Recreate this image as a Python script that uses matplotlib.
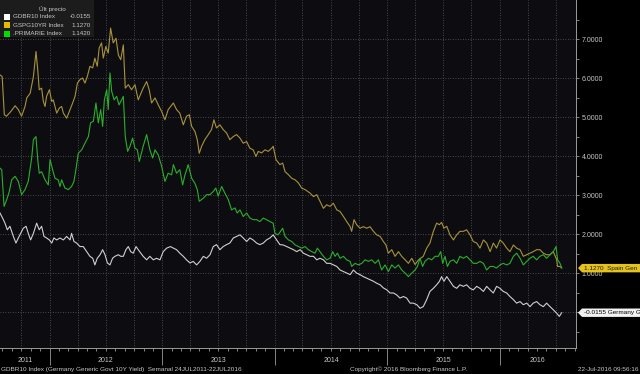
import numpy as np
import pandas as pd
import matplotlib
matplotlib.use("Agg")
import matplotlib.pyplot as plt
import matplotlib.dates as mdates
import matplotlib.ticker as mticker
import matplotlib.transforms as mtransforms
from matplotlib.patches import Polygon, Rectangle
from matplotlib import font_manager

# ---------------- fonts ----------------
_names = {f.name for f in font_manager.fontManager.ttflist}
_fams = [f for f in ["Liberation Sans Narrow", "Liberation Sans", "DejaVu Sans"] if f in _names] or ["DejaVu Sans"]
plt.rcParams["font.family"] = _fams

# ---------------- data ----------------
# weekly series, position given as weeks since 24-Jul-2011
start_date = "2011-07-24"
end_date = "2016-09-05"

spain_weeks = [0, 1, 2, 3, 5, 7, 8.5, 10, 11.6, 12.4, 14, 15.5, 16.7, 17.5, 18.2, 19.3, 20.1, 20.9, 21.6, 22.9,
               24, 24.7, 25.5, 26.3, 27.5, 28.6, 29.4, 30.9, 32.5, 33.7, 34.8, 35.9, 37.1, 38.3, 39.4, 40.5, 41.7, 43, 44, 45.1,
               46, 47.1, 47.9, 49.1, 50.2, 51.3, 52.5, 53.8, 54.9, 56, 57.2, 58.1, 59.5, 61, 62.6, 64.1,
               66.4, 68, 69.2, 70.3, 71.9, 73.4, 75, 76.5, 78, 80.4, 81.9, 83.4, 85, 86.5, 87.8, 88.9, 90.4, 91.5, 92.4, 93.5,
               95, 96.6, 98.1, 99.2, 100.4, 102, 103.5, 105.1, 106.6, 108.2, 109.7, 111.3, 112.8, 114.4, 115.9, 117.4, 118.7, 119.8, 121.3, 122.9,
               124.4, 126, 126.7, 128, 129.8,
               131.1, 132.2, 133.8, 135.3, 136.9, 138.4, 139.9, 141.5, 143.8, 145.4, 146.9, 148.4, 150, 151.5, 153.1, 154.6, 156.2, 157.7, 159.3, 160.8,
               162.4, 163.1, 164.2, 165.4, 167, 168.5, 170.1, 171.6, 173.2, 174.7, 176.3, 177.8, 179, 180.1, 181.7, 183.2, 184.8, 186.3, 187.9, 189.4,
               191, 192.5, 194.1,
               196.3, 197.9, 199.4, 201, 202.5, 203.8, 204.8, 205.9, 207.2, 208.7, 210.3, 211.8, 213.3, 214.9, 216.4, 218, 219.5, 221.1, 222.6, 224.2,
               225.7, 227.3, 228.8, 230.3, 231.9, 233.4, 235, 236.5, 238.1, 239.6, 241.2, 242.7, 244.3, 245.8, 247.3, 248.9, 250.4, 252, 253.5, 255.1,
               256.6, 258.2, 258.6, 259.7, 260.5]
spain_vals = [6.08, 6.04, 5.06, 5.02, 5.14, 5.29, 5.19, 5.02, 5.27, 5.49, 5.61, 6.04, 6.68, 6.21, 5.70, 5.74, 5.40, 5.27, 5.53, 5.70,
              5.40, 5.44, 5.27, 5.10, 5.23, 5.27, 5.10, 4.97, 5.19, 5.36, 5.53, 5.87, 5.96, 6.00, 5.87, 6.04, 6.30, 6.26, 6.51, 6.30,
              6.77, 6.90, 6.51, 6.81, 6.64, 7.28, 6.90, 7.02, 6.59, 6.47, 6.85, 5.74, 5.83, 5.70, 5.83, 5.44,
              5.74, 5.91, 5.70, 5.36, 5.49, 5.31, 5.14, 4.93, 5.19, 5.36, 5.19, 5.10, 4.80, 5.02, 5.06, 4.76, 4.63, 4.42, 4.07, 4.25,
              4.42, 4.55, 4.68, 4.93, 4.72, 4.80, 4.68, 4.59, 4.42, 4.50, 4.55, 4.46, 4.33, 4.37, 4.20, 4.16, 3.99, 4.12, 4.08, 4.16,
              4.12, 4.20, 4.25, 3.91, 3.78,
              3.82, 3.60, 3.52, 3.43, 3.39, 3.31, 3.18, 3.14, 3.05, 2.96, 3.01, 2.84, 2.66, 2.75, 2.71, 2.79, 2.62, 2.58, 2.45, 2.32,
              2.19, 2.07, 2.37, 2.24, 2.15, 2.19, 2.15, 2.19, 2.07, 1.98, 1.94, 1.81, 1.72, 1.51, 1.60, 1.43, 1.55, 1.43, 1.34, 1.25,
              1.38, 1.22, 1.34,
              1.43, 1.64, 1.77, 2.07, 2.28, 2.24, 2.30, 2.15, 2.20, 1.98, 1.85, 1.98, 2.07, 2.07, 2.11, 1.98, 1.81, 1.77, 1.64, 1.85,
              1.77, 1.55, 1.77, 1.64, 1.85, 1.77, 1.64, 1.55, 1.72, 1.64, 1.60, 1.43, 1.47, 1.51, 1.55, 1.60, 1.60, 1.51, 1.47, 1.47,
              1.55, 1.34, 1.17, 1.17, 1.127]

spread_weeks = [0, 0.8, 1.9, 3.1, 4.3, 5.4, 7, 8.5, 10, 11.6, 13.1, 14.7, 15.5, 16.7, 17.5, 18.2, 19.3, 20.9, 22.4, 23.2,
                24.4, 25.5, 27, 27.8, 28.6, 30.1, 31.7, 33.2, 34.3, 35.2, 36.3, 37.9, 39.4, 41, 42, 43.3, 44.5, 45.6, 46.7, 47.6,
                48.4, 49.5, 50.2, 51, 51.8, 52.9, 54.1, 55.2, 56.4, 57.2, 58.1, 59.2, 60.3, 61.5, 62.6, 63.7, 64.6,
                66.4, 68, 69.5, 70.8, 71.9, 73.4, 75, 76.5, 78, 79.6, 80.4, 81.9, 83.4, 84.7, 85.8, 87.3, 88.9, 90.4, 91.5, 92.4,
                94.3, 95.8, 97.4, 98.9, 100.1, 101.2, 102.8, 104.3, 105.9, 107.4, 109, 110, 111.3, 112.8, 114.4, 115.9, 117.4, 119, 120.5, 122.1,
                123.6, 125.2, 126.7, 127.5, 129,
                131.1, 132.2, 133.8, 135.3, 136.9, 138.4, 139.9, 141.5, 143, 144.6, 146.1, 147.2, 148.4, 150, 151.5, 153.1, 154.3, 155.4, 156.5, 157.7,
                159.3, 160.8, 162.4, 163.1, 164.7, 166.2, 167.8, 169.3, 170.9, 172.4, 174, 175.5, 177, 178.6, 180.1, 181.7, 183.2, 184.8, 186.3, 187.9,
                189.4, 191, 192.5, 193.6, 194.8,
                196, 197.1, 198.7, 200.2, 201.8, 203.3, 204.4, 205.3, 206.4, 207.5, 208.7, 210.3, 211.8, 213.3, 214.9, 216.4, 218, 219.5, 221.1, 222.6,
                224.2, 225.7, 227.3, 228.8, 230.3, 231.9, 233.4, 235, 236.5, 238.1, 239.6, 241.2, 242.7, 244.3, 245.8, 247.3, 248.9, 250.4, 252, 253.5,
                255.1, 256.6, 257.9, 258.6, 259.7, 260.5]
spread_vals = [3.69, 3.65, 2.71, 2.88, 3.09, 3.39, 3.48, 3.35, 3.01, 3.14, 3.35, 3.95, 4.42, 4.50, 3.91, 3.56, 3.60, 3.39, 3.26, 3.91,
               3.65, 3.43, 3.39, 3.22, 3.39, 3.18, 3.14, 3.22, 3.35, 3.65, 4.07, 4.16, 4.33, 4.50, 4.85, 4.89, 5.36, 4.85, 5.19, 4.76,
               5.44, 5.70, 5.19, 6.13, 5.66, 5.44, 5.53, 5.31, 5.44, 5.53, 4.50, 4.12, 4.25, 4.46, 4.20, 4.16, 3.86,
               4.25, 4.55, 4.16, 3.95, 4.16, 4.03, 3.73, 3.35, 3.56, 3.52, 3.78, 3.56, 3.65, 3.26, 3.52, 3.78, 3.43, 3.30, 3.14, 2.84,
               2.92, 3.01, 3.01, 3.09, 3.18, 2.97, 3.22, 3.05, 2.88, 2.62, 2.67, 2.54, 2.62, 2.45, 2.54, 2.41, 2.37, 2.37, 2.32, 2.41,
               2.37, 2.32, 2.28, 2.02, 1.98,
               2.15, 1.94, 1.85, 1.81, 1.72, 1.68, 1.64, 1.68, 1.60, 1.55, 1.51, 1.64, 1.55, 1.43, 1.34, 1.38, 1.55, 1.43, 1.51, 1.38,
               1.43, 1.34, 1.30, 1.17, 1.25, 1.21, 1.25, 1.34, 1.30, 1.34, 1.25, 1.34, 1.08, 1.21, 1.04, 1.21, 1.13, 1.21, 1.08, 1.00,
               0.91, 1.00, 1.08, 1.17, 1.38,
               1.17, 1.30, 1.38, 1.34, 1.43, 1.43, 1.55, 1.25, 1.43, 1.17, 1.30, 1.34, 1.25, 1.43, 1.38, 1.43, 1.34, 1.25, 1.25, 1.30,
               1.25, 1.08, 1.17, 1.17, 1.13, 1.21, 1.25, 1.21, 1.25, 1.43, 1.51, 1.38, 1.21, 1.30, 1.38, 1.43, 1.34, 1.43, 1.47, 1.38,
               1.47, 1.55, 1.68, 1.34, 1.25, 1.142]

germany_weeks = [0, 1.2, 2.3, 3.4, 4.6, 6.2, 7.4, 8.5, 9.6, 10.8, 12.1, 13.1, 14.2, 15.5, 17, 18.2, 19.3, 20.4, 21.6, 22.9,
                 24, 25, 26.3, 27.8, 29.4, 30.9, 32.5, 33.2, 34.3, 35.5, 37.1, 38.6, 40.2, 41.7, 43, 44, 45.1, 46.4, 47.6, 48.7,
                 49.8, 51, 52.2, 53.3, 54.9, 56, 57.2, 58.4, 59.5, 60.6, 61.8, 63.1, 64.1,
                 66.4, 68, 69.5, 71.1, 72.6, 74.2, 75.7, 77.3, 79.1, 80.4, 81.9, 83.4, 85, 86.5, 88.1, 89.6, 91.2, 92.7, 94.3, 95.8,
                 97.4, 98.9, 100.4, 102, 103.5, 105.1, 106.6, 108.2, 109.7, 111.3, 112.8, 114.4, 115.9, 117.4, 119, 120.5, 122.1, 123.6, 125.2, 126.7,
                 128.3, 129.8,
                 131.4, 133, 134.5, 136.1, 137.6, 139.2, 140.7, 142.3, 143.8, 145.4, 146.9, 148.4, 150, 151.5, 153.1, 154.6, 156.2, 157.7, 159.3, 160.8,
                 162.4, 163.9, 165.4, 167, 168.5, 170.1, 171.6, 173.2, 174.7, 176.3, 177.8, 179.4, 180.9, 182.5, 184, 185.5, 187.1, 188.6, 190.2, 191.7,
                 193.3, 194.8,
                 196.3, 197.9, 199.4, 201, 202.5, 203.8, 204.8, 205.9, 207.2, 208.7, 210.3, 211.8, 213.3, 214.9, 216.4, 218, 219.5, 221.1, 222.6, 224.2,
                 225.7, 227.3, 228.8, 230.3, 231.9, 233.4, 235, 236.5, 238.1, 239.6, 241.2, 242.7, 244.3, 245.8, 247.3, 248.9, 250.4, 252, 253.5, 255.1,
                 256.6, 258.2, 259.4, 260.5]
germany_vals = [2.54, 2.41, 2.28, 2.11, 2.20, 1.94, 1.77, 1.90, 2.02, 2.15, 2.20, 2.02, 1.85, 2.02, 2.28, 2.11, 2.20, 1.94, 1.90, 1.85,
                1.77, 1.90, 1.85, 1.90, 1.85, 1.94, 1.85, 2.02, 1.81, 1.77, 1.68, 1.68, 1.55, 1.43, 1.38, 1.21, 1.38, 1.47, 1.60, 1.47,
                1.26, 1.21, 1.38, 1.43, 1.47, 1.43, 1.43, 1.60, 1.68, 1.55, 1.51, 1.68, 1.60,
                1.43, 1.34, 1.43, 1.34, 1.38, 1.34, 1.55, 1.64, 1.68, 1.64, 1.60, 1.51, 1.43, 1.34, 1.26, 1.30, 1.21, 1.30, 1.43, 1.38,
                1.47, 1.68, 1.73, 1.60, 1.68, 1.73, 1.77, 1.90, 1.94, 1.98, 1.90, 1.81, 1.90, 1.85, 1.77, 1.73, 1.77, 1.85, 1.90, 1.98,
                1.85, 1.73,
                1.72, 1.68, 1.64, 1.60, 1.55, 1.60, 1.51, 1.47, 1.43, 1.43, 1.34, 1.38, 1.34, 1.25, 1.25, 1.21, 1.17, 1.08, 1.04, 1.00,
                0.96, 1.08, 1.00, 0.96, 0.91, 0.87, 0.83, 0.79, 0.74, 0.70, 0.62, 0.57, 0.49, 0.49, 0.44, 0.36, 0.40, 0.36, 0.23, 0.23,
                0.19, 0.10,
                0.14, 0.32, 0.53, 0.61, 0.70, 0.79, 0.91, 0.79, 0.91, 0.79, 0.66, 0.61, 0.70, 0.66, 0.70, 0.61, 0.57, 0.66, 0.61, 0.53,
                0.66, 0.57, 0.49, 0.66, 0.61, 0.53, 0.49, 0.40, 0.32, 0.23, 0.27, 0.19, 0.23, 0.14, 0.23, 0.27, 0.19, 0.14, 0.23, 0.14,
                0.06, -0.03, -0.11, -0.0155]

legend_title = "Últ precio"
legend_names = ["GDBR10 Index", "GSPG10YR Index", ".PRIMARIE Index"]
legend_last = ["-0.0155", "1.1270", "1.1420"]
callout_values = [1.1270, -0.0155]
callout_texts = ["1.1270  Spain Gen", "-0.0155 Germany G"]
y_ticks = [1, 2, 3, 4, 5, 6, 7]
y_minor = [-0.5, 0, 0.5, 1.5, 2.5, 3.5, 4.5, 5.5, 6.5, 7.5]
y_grid = [0, 1, 2, 3, 4, 5, 6, 7]
years = [2011, 2012, 2013, 2014, 2015, 2016]
footer_left = "GDBR10 Index (Germany Generic Govt 10Y Yield)  Semanal 24JUL2011-22JUL2016"
footer_mid = "Copyright© 2016 Bloomberg Finance L.P."
footer_right = "22-Jul-2016 09:56:16"

# ---------------- style ----------------
C_GER = "#cfcfcf"
C_ESP = "#a8923c"
C_SPR = "#2cae2c"
C_TXT = "#c8c8c8"
C_AX = "#9a9a9a"
C_GRID = "#5e5e5e"

t0 = pd.Timestamp(start_date)
def to_dates(w):
    return t0 + pd.to_timedelta(np.asarray(w, dtype=float) * 7.0, unit="D")

W, H = 640, 374
fig = plt.figure(figsize=(W / 100, H / 100), dpi=100, facecolor="black")
ax = fig.add_axes([0, 1 - 348 / H, 576 / W, 348 / H])
ax.set_facecolor("#0d0d11")

ax.plot(to_dates(germany_weeks), germany_vals, color=C_GER, lw=0.8, zorder=4)
ax.plot(to_dates(spain_weeks), spain_vals, color=C_ESP, lw=0.8, zorder=3)
ax.plot(to_dates(spread_weeks), spread_vals, color=C_SPR, lw=0.8, zorder=3.5)

ax.set_xlim(pd.Timestamp(start_date), pd.Timestamp(end_date))
ax.set_ylim(-0.92, 8.0)

for s in ["left", "top"]:
    ax.spines[s].set_visible(False)
for s in ["right", "bottom"]:
    ax.spines[s].set_color(C_AX)
    ax.spines[s].set_linewidth(0.7)

# y axis on right
ax.yaxis.tick_right()
ax.yaxis.set_major_locator(mticker.FixedLocator(y_ticks))
ax.yaxis.set_minor_locator(mticker.FixedLocator(y_minor))
ax.yaxis.set_major_formatter(mticker.FormatStrFormatter("%.4f"))
ax.tick_params(axis="y", which="major", direction="out", length=2.5, width=0.6,
               color=C_AX, labelcolor=C_TXT, labelsize=5.0, pad=1.5)
ax.tick_params(axis="y", which="minor", direction="out", length=2.0, width=0.6, color=C_AX)

# x axis: year separators and monthly ticks
ax.xaxis.set_major_locator(mdates.YearLocator())
ax.xaxis.set_major_formatter(mticker.NullFormatter())
ax.xaxis.set_minor_locator(mdates.MonthLocator())
ax.tick_params(axis="x", which="major", direction="out", length=12, width=0.6, color=C_AX)
ax.tick_params(axis="x", which="minor", direction="out", length=2, width=0.6, color=C_AX)

# grid
for g in y_grid:
    ax.axhline(g, color=C_GRID, linestyle=(0, (1, 2)), linewidth=0.6, zorder=1)
for q in pd.date_range("2011-10-01", "2016-07-01", freq="QS"):
    ax.axvline(q, color=C_GRID, linestyle=(0, (1, 2)), linewidth=0.6, zorder=1)

# year labels centred on each visible year span
xl0, xl1 = ax.get_xlim()
blend_xd = mtransforms.blended_transform_factory(ax.transData, ax.transAxes)
for yr in years:
    a = max(mdates.date2num(pd.Timestamp(f"{yr}-01-01")), xl0)
    b = min(mdates.date2num(pd.Timestamp(f"{yr + 1}-01-01")), xl1)
    ax.text((a + b) / 2, -12 / 348, str(yr), transform=blend_xd, ha="center", va="center",
            color=C_TXT, fontsize=5.0, clip_on=False)

# callouts on right
blend_ad = mtransforms.blended_transform_factory(ax.transAxes, ax.transData)
hh = 4.2 / 39
x0 = 1 + 2 / 576
x1 = x0 + 4 / 576
x2 = W / 576 + 0.01
styles = [("#e6c21c", "#1a1a1a"), ("#f2f2f2", "#000000")]
for v, txt, (bg, fg) in zip(callout_values, callout_texts, styles):
    poly = Polygon([(x0, v), (x1, v + hh), (x2, v + hh), (x2, v - hh), (x1, v - hh)],
                   closed=True, transform=blend_ad, facecolor=bg, edgecolor="none",
                   clip_on=False, zorder=10)
    ax.add_patch(poly)
    ax.text(x1 + 1.5 / 576, v, txt, transform=blend_ad, ha="left", va="center",
            color=fg, fontsize=4.6, clip_on=False, zorder=11)

# legend box (top-left)
fig.patches.append(Rectangle((0, 1 - 37 / H), 94 / W, 37 / H, transform=fig.transFigure,
                             facecolor="#1c1c1c", edgecolor="none", zorder=20))
fig.text(52 / W, 1 - 9 / H, legend_title, ha="center", va="center", color=C_TXT, fontsize=4.6, zorder=21)
sw_cols = ["#ffffff", "#e6b800", "#00dd00"]
for i, (nm, lv, sc) in enumerate(zip(legend_names, legend_last, sw_cols)):
    yy = 17 + i * 8.3
    fig.patches.append(Rectangle((4 / W, 1 - (yy + 3) / H), 6 / W, 6 / H, transform=fig.transFigure,
                                 facecolor=sc, edgecolor="none", zorder=21))
    fig.text(13 / W, 1 - yy / H, nm, ha="left", va="center", color=C_TXT, fontsize=4.5, zorder=21)
    fig.text(91 / W, 1 - yy / H, lv, ha="right", va="center", color=C_TXT, fontsize=4.5, zorder=21)

# footer
fy = 1 - 369.5 / H
fig.text(1 / W, fy, footer_left, ha="left", va="center", color=C_TXT, fontsize=4.6)
fig.text(350 / W, fy, footer_mid, ha="left", va="center", color=C_TXT, fontsize=4.6)
fig.text(638 / W, fy, footer_right, ha="right", va="center", color=C_TXT, fontsize=4.6)

fig.savefig("out.png", dpi=100, facecolor="black")
